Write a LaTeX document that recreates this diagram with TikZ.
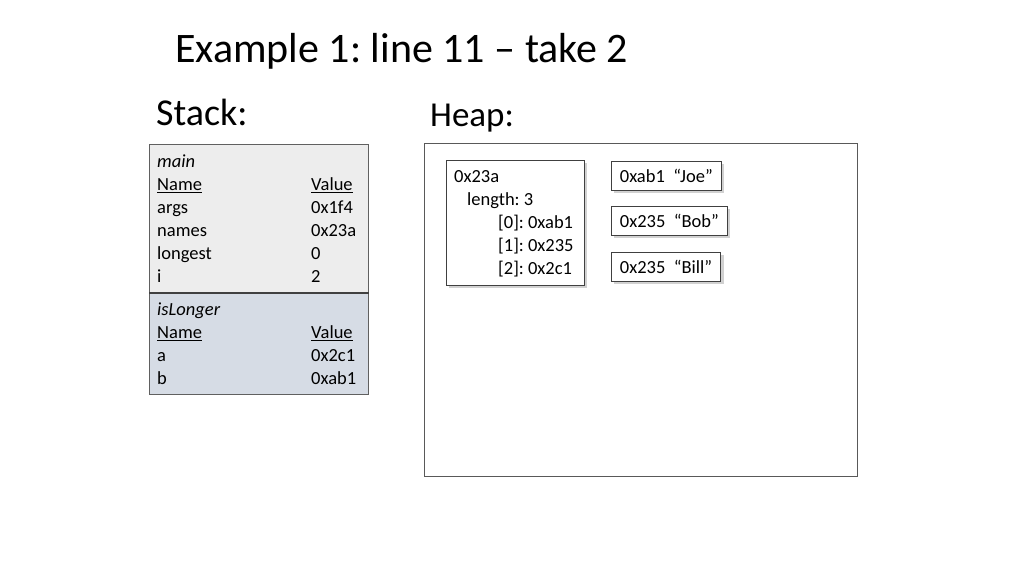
\documentclass[tikz,border=0pt]{standalone}
\usepackage{fontspec}
\setmainfont{Carlito}
\usetikzlibrary{positioning,shadows}
\definecolor{mainfill}{HTML}{EDEDED}
\definecolor{longerfill}{HTML}{D6DCE5}
\frenchspacing

\begin{document}
\begin{tikzpicture}[x=1pt,y=-1pt,
    titletext/.style={inner sep=0pt,anchor=base west,font=\fontsize{42}{50}\selectfont},
    headtext/.style={inner sep=0pt,anchor=base west,font=\fontsize{38}{44}\selectfont},
    bodytext/.style={inner sep=0pt,anchor=north west,font=\fontsize{18.5}{23}\selectfont},
    frame/.style={rectangle,draw=gray!75!black,line width=1pt,inner sep=0pt,anchor=north west},
    mainframe/.style={frame,fill=mainfill,minimum width=219pt,minimum height=148pt},
    longerframe/.style={frame,fill=longerfill,minimum width=219pt,minimum height=101pt},
    heapframe/.style={frame,draw=gray!70!black,line width=0.8pt,minimum width=433pt,minimum height=333pt},
    heapbox/.style={rectangle,draw=black!75,line width=0.8pt,fill=white,anchor=north west,
        minimum height=29pt,inner xsep=8.5pt,inner ysep=0pt,font=\fontsize{18.5}{23}\selectfont,
        drop shadow={shadow xshift=3pt,shadow yshift=-3pt,fill=gray!60,opacity=0.6}},
    sep/.style={draw=black!75,line width=1.8pt}
]
\useasboundingbox (0,0) rectangle (1024,576);

% Titles
\node[titletext] (title) at (175,62) {Example 1: line 11 -- take 2};
\node[headtext] (stacklabel) at (156,125) {Stack:};
\node[headtext,font=\fontsize{35}{42}\selectfont] (heaplabel) at (430,126) {Heap:};

% Stack frames
\node[mainframe] (stackmain) at (149,144) {};
\node[longerframe,below=0pt of stackmain] (stacklonger) {};
\draw[sep] (stackmain.south west) -- (stackmain.south east);

\node[bodytext,below right=7pt and 8pt of stackmain.north west] (maintext) {%
  \begin{tabular}{@{}p{154pt}@{}l@{}}
    \textit{main} & \\
    \underline{Name} & \underline{Value}\\
    args & 0x1f4\\
    names & 0x23a\\
    longest & 0\\
    i & 2
  \end{tabular}};
\node[bodytext,below right=6.5pt and 8pt of stacklonger.north west] (longertext) {%
  \begin{tabular}{@{}p{154pt}@{}l@{}}
    \textit{isLonger} & \\
    \underline{Name} & \underline{Value}\\
    a & 0x2c1\\
    b & 0xab1
  \end{tabular}};

% Heap
\node[heapframe] (heap) at (424,143) {};
\node[heapbox,minimum width=138pt,minimum height=125pt] (arr) at (446,160) {};
\node[bodytext,below right=6pt and 8pt of arr.north west] (arrtext) {%
  \begin{tabular}{@{}l@{}}
    0x23a\\
    \hspace{13pt}length: 3\\
    \hspace{44pt}[0]: 0xab1\\
    \hspace{44pt}[1]: 0x235\\
    \hspace{44pt}[2]: 0x2c1
  \end{tabular}};

\node[heapbox] (joe) at (611,161) {0xab1\ \ “Joe”};
\node[heapbox,below=15pt of joe.south west,anchor=north west] (bob) {0x235\ \ “Bob”};
\node[heapbox,below=16pt of bob.south west,anchor=north west] (bill) {0x235\ \ “Bill”};

\end{tikzpicture}
\end{document}
